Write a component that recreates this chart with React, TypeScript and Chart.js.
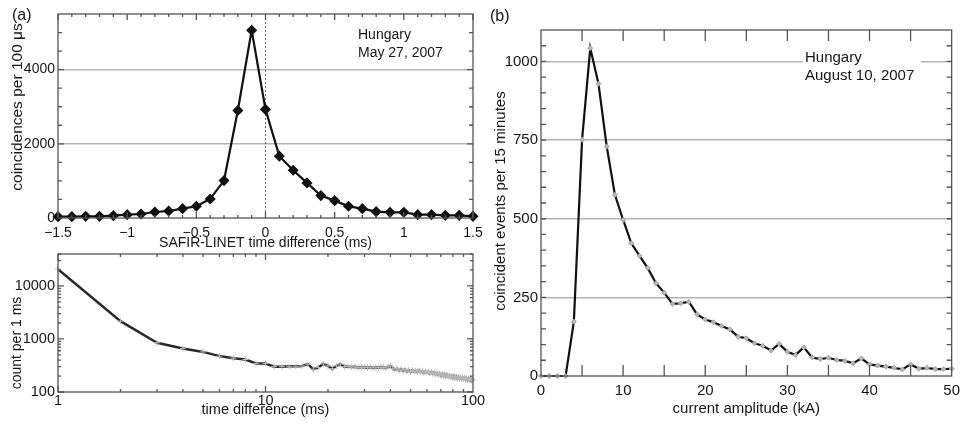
import { useEffect, useRef } from "react";
import Chart from "chart.js/auto";

const SANS = "'Liberation Sans', Arial, Helvetica, sans-serif";
const INK = "#151515";
const FRAME = "#555";
const GRID = "#b4b4b4";

// (a) upper: SAFIR-LINET coincidences vs time difference
const timeDiffMs = [
  -1.5, -1.4, -1.3, -1.2, -1.1, -1.0, -0.9, -0.8, -0.7, -0.6, -0.5, -0.4, -0.3, -0.2, -0.1,
  0, 0.1, 0.2, 0.3, 0.4, 0.5, 0.6, 0.7, 0.8, 0.9, 1.0, 1.1, 1.2, 1.3, 1.4, 1.5,
];
const coincidencesPer100us = [
  36, 36, 45, 45, 63, 90, 108, 162, 189, 252, 315, 514, 1009, 2900, 5063,
  2928, 1667, 1288, 946, 604, 468, 315, 252, 171, 153, 153, 90, 90, 72, 72, 45,
];
const timeDiffTicks = [-1.5, -1, -0.5, 0, 0.5, 1, 1.5];
const coincidenceTicks = [0, 2000, 4000];

// (a) lower: count per 1 ms vs time difference (log-log)
const lagMs = [
  1, 2, 3, 4, 5, 6, 7, 8, 9, 10,
  11, 12, 13, 14, 15, 16, 17, 18, 19, 20,
  21, 22, 23, 24, 25, 26, 27, 28, 29, 30,
  31, 32, 33, 34, 35, 36, 37, 38, 39, 40,
  41, 42, 43, 44, 45, 46, 47, 48, 49, 50,
  51, 52, 53, 54, 55, 56, 57, 58, 59, 60,
  61, 62, 63, 64, 65, 66, 67, 68, 69, 70,
  71, 72, 73, 74, 75, 76, 77, 78, 79, 80,
  81, 82, 83, 84, 85, 86, 87, 88, 89, 90,
  91, 92, 93, 94, 95, 96, 97, 98, 99, 100,
];
const countPer1ms = [
  20700, 2170, 850, 660, 570, 475, 435, 410, 345, 345,
  300, 300, 305, 305, 310, 335, 268, 290, 340, 310,
  275, 310, 335, 300, 300, 295, 298, 290, 295, 292,
  288, 295, 285, 292, 288, 295, 290, 282, 300, 310,
  280, 262, 275, 255, 270, 250, 265, 245, 258, 240,
  255, 245, 250, 238, 252, 236, 248, 230, 245, 232,
  240, 226, 238, 222, 232, 215, 228, 212, 222, 205,
  218, 200, 215, 198, 210, 195, 205, 190, 200, 185,
  198, 185, 195, 180, 192, 178, 190, 176, 188, 175,
  185, 172, 182, 168, 180, 170, 178, 165, 175, 168,
];
const lagTicks = [1, 10, 100];
const countTicks = [100, 1000, 10000];

// (b) coincident events vs current amplitude
const currentKA = [
  0, 1, 2, 3, 4, 5, 6, 7, 8, 9, 10, 11, 12, 13, 14, 15, 16, 17, 18, 19, 20, 21, 22, 23, 24, 25,
  26, 27, 28, 29, 30, 31, 32, 33, 34, 35, 36, 37, 38, 39, 40, 41, 42, 43, 44, 45, 46, 47, 48, 49, 50,
];
const eventsPer15min = [
  0, 0, 0, 0, 173, 751, 1042, 929, 730, 576, 496, 422, 382, 343, 295, 265, 229, 231, 236, 196,
  180, 171, 159, 148, 125, 120, 104, 96, 81, 102, 77, 67, 91, 59, 54, 58, 51, 48, 40, 56,
  37, 33, 30, 26, 21, 37, 23, 26, 22, 22, 23,
];
const currentTicks = [0, 10, 20, 30, 40, 50];
const eventTicks = [0, 250, 500, 750, 1000];

type Mark = { v: number; len: number };
type Note = { text: string; x: number; y: number; size: number; rotate?: boolean };

function framePlugin(
  xMarks: Mark[],
  yMarks: Mark[],
  notes: Note[],
  opts: { zeroLine?: boolean; blank?: number[] } = {}
) {
  return {
    id: "frame",
    beforeDatasetsDraw(chart: any) {
      if (!opts.zeroLine) return;
      const { ctx, chartArea } = chart;
      const px = chart.scales.x.getPixelForValue(0);
      ctx.save();
      ctx.strokeStyle = "#666";
      ctx.lineWidth = 1;
      ctx.setLineDash([2, 2]);
      ctx.beginPath();
      ctx.moveTo(px, chartArea.top);
      ctx.lineTo(px, chartArea.bottom);
      ctx.stroke();
      ctx.restore();
    },
    afterDatasetsDraw(chart: any) {
      if (!opts.blank) return;
      const [x, y, w, h] = opts.blank;
      chart.ctx.save();
      chart.ctx.fillStyle = "#fff";
      chart.ctx.fillRect(x, y, w, h);
      chart.ctx.restore();
    },
    afterDraw(chart: any) {
      const { ctx } = chart;
      const { left, right, top, bottom } = chart.chartArea;
      const xs = chart.scales.x;
      const ys = chart.scales.y;
      ctx.save();
      ctx.strokeStyle = FRAME;
      ctx.lineWidth = 1.3;
      ctx.strokeRect(left, top, right - left, bottom - top);
      ctx.beginPath();
      for (const m of xMarks) {
        const px = xs.getPixelForValue(m.v);
        ctx.moveTo(px, bottom);
        ctx.lineTo(px, bottom - m.len);
        ctx.moveTo(px, top);
        ctx.lineTo(px, top + m.len);
      }
      for (const m of yMarks) {
        const py = ys.getPixelForValue(m.v);
        ctx.moveTo(left, py);
        ctx.lineTo(left + m.len, py);
        ctx.moveTo(right, py);
        ctx.lineTo(right - m.len, py);
      }
      ctx.stroke();

      ctx.fillStyle = INK;
      for (const n of notes) {
        ctx.font = `${n.size}px ${SANS}`;
        if (n.rotate) {
          ctx.save();
          ctx.translate(n.x, n.y);
          ctx.rotate(-Math.PI / 2);
          ctx.textAlign = "center";
          ctx.textBaseline = "middle";
          ctx.fillText(n.text, 0, 0);
          ctx.restore();
        } else {
          ctx.textAlign = "left";
          ctx.textBaseline = "alphabetic";
          ctx.fillText(n.text, n.x, n.y);
        }
      }
      ctx.restore();
    },
  };
}

const font = (size: number) => ({ family: SANS, size, lineHeight: 1.2 });

function axis(opts: {
  type?: string;
  min: number;
  max: number;
  ticks: number[];
  size: number;
  fit: number;
  horizontal: boolean;
  pad: number;
  grid?: number[];
  title?: string;
  titlePad?: number;
  fmt?: (v: number) => string;
}) {
  return {
    type: opts.type ?? "linear",
    min: opts.min,
    max: opts.max,
    afterBuildTicks: (s: any) => {
      s.ticks = opts.ticks.map((v) => ({ value: v }));
    },
    afterFit: (s: any) => {
      if (opts.horizontal) s.height = opts.fit;
      else s.width = opts.fit;
    },
    grid: opts.grid
      ? {
          color: (c: any) => (c.tick && opts.grid!.includes(c.tick.value) ? GRID : "rgba(0,0,0,0)"),
          lineWidth: 1.5,
          drawTicks: false,
        }
      : { display: false, drawTicks: false },
    border: { display: false },
    ticks: {
      padding: opts.pad,
      color: INK,
      font: font(opts.size),
      autoSkip: false,
      maxRotation: 0,
      callback: (v: any) => (opts.fmt ? opts.fmt(Number(v)) : String(v)),
    },
    title: opts.title
      ? {
          display: true,
          text: opts.title,
          color: INK,
          font: font(opts.size),
          padding: { top: 0, bottom: opts.titlePad ?? 0 },
        }
      : { display: false },
  };
}

export default function App() {
  const topRef = useRef<HTMLCanvasElement>(null);
  const logRef = useRef<HTMLCanvasElement>(null);
  const ampRef = useRef<HTMLCanvasElement>(null);

  useEffect(() => {
    // --- (a) upper ---
    const topX: Mark[] = [];
    for (let i = -15; i <= 15; i++) topX.push({ v: i / 10, len: i % 5 === 0 ? 6 : 3 });
    const topY: Mark[] = [];
    for (let v = 500; v < 5500; v += 500) topY.push({ v, len: v % 2000 === 0 ? 6 : 4 });

    const topChart = new Chart(topRef.current!, {
      type: "line",
      data: {
        datasets: [
          {
            data: timeDiffMs.map((x, i) => ({ x, y: coincidencesPer100us[i] })),
            borderColor: "#111",
            borderWidth: 2.2,
            pointStyle: "rectRot",
            pointRadius: 4,
            pointBackgroundColor: "#111",
            pointBorderColor: "#111",
            clip: false,
          },
        ],
      },
      options: {
        responsive: false,
        animation: false,
        layout: { padding: { top: 14, right: 17, left: 0, bottom: 0 } },
        plugins: { legend: { display: false }, tooltip: { enabled: false } },
        scales: {
          x: axis({
            min: -1.5, max: 1.5, ticks: timeDiffTicks, size: 14, fit: 38, horizontal: true, pad: 7,
            title: "SAFIR-LINET time difference (ms)", titlePad: 4,
            fmt: (v) => String(v).replace("-", "\u2212"),
          }),
          y: axis({
            min: 0, max: 5500, ticks: coincidenceTicks, size: 14, fit: 58, horizontal: false, pad: 3,
            grid: [2000, 4000],
          }),
        },
      } as any,
      plugins: [
        framePlugin(topX, topY, [
          { text: "(a)", x: 12, y: 20, size: 16 },
          { text: "Hungary", x: 358, y: 38.5, size: 14 },
          { text: "May 27, 2007", x: 358, y: 56.5, size: 14 },
          { text: "coincidences per 100 \u03bcs", x: 18, y: 107, size: 15.5, rotate: true },
        ], { zeroLine: true }),
      ],
    });

    // --- (a) lower, log-log ---
    const logX: Mark[] = [];
    for (const d of [1, 10]) for (let k = 1; k <= 9; k++) logX.push({ v: k * d, len: k === 1 ? 6 : 3 });
    const logY: Mark[] = [];
    for (const d of [100, 1000, 10000])
      for (let k = 1; k <= 9; k++) if (k * d <= 40000) logY.push({ v: k * d, len: k === 1 ? 6 : 3 });

    const logChart = new Chart(logRef.current!, {
      type: "line",
      data: {
        datasets: [
          {
            data: lagMs.map((x, i) => ({ x, y: countPer1ms[i] })),
            borderColor: "#2a2a2a",
            borderWidth: 2.5,
            pointStyle: "cross",
            pointRadius: 3,
            pointBorderWidth: 1,
            pointBorderColor: "#b8b8b8",
            pointBackgroundColor: "#b8b8b8",
            clip: false,
          },
        ],
      },
      options: {
        responsive: false,
        animation: false,
        layout: { padding: { top: 14, right: 17, left: 0, bottom: 0 } },
        plugins: { legend: { display: false }, tooltip: { enabled: false } },
        scales: {
          x: axis({
            type: "logarithmic", min: 1, max: 100, ticks: lagTicks, size: 14.5, fit: 32, horizontal: true, pad: 0,
            title: "time difference (ms)", titlePad: 5,
          }),
          y: axis({
            type: "logarithmic", min: 100, max: 40000, ticks: countTicks, size: 14.5, fit: 58, horizontal: false, pad: 3,
          }),
        },
      } as any,
      plugins: [
        framePlugin(logX, logY, [
          { text: "count per 1 ms", x: 17, y: 103, size: 14, rotate: true },
        ]),
      ],
    });

    // --- (b) ---
    const ampX: Mark[] = [];
    for (let v = 5; v < 50; v += 5) ampX.push({ v, len: 11 });
    const ampY: Mark[] = [];
    for (let v = 50; v < 1100; v += 50) ampY.push({ v, len: 5 });

    const ampChart = new Chart(ampRef.current!, {
      type: "line",
      data: {
        datasets: [
          {
            data: currentKA.map((x, i) => ({ x, y: eventsPer15min[i] })),
            borderColor: "#111",
            borderWidth: 2.2,
            pointStyle: "rectRot",
            pointRadius: 2.5,
            pointBorderWidth: 1,
            pointBorderColor: "#a0a0a0",
            pointBackgroundColor: "#b8b8b8",
            clip: false,
          },
        ],
      },
      options: {
        responsive: false,
        animation: false,
        layout: { padding: { top: 30, right: 9, left: 0, bottom: 0 } },
        plugins: { legend: { display: false }, tooltip: { enabled: false } },
        scales: {
          x: axis({
            min: 0, max: 50, ticks: currentTicks, size: 15, fit: 48, horizontal: true, pad: 6,
            title: "current amplitude (kA)", titlePad: 6,
          }),
          y: axis({
            min: 0, max: 1100, ticks: eventTicks, size: 15, fit: 61, horizontal: false, pad: 3,
            grid: [250, 500, 750, 1000],
          }),
        },
      } as any,
      plugins: [
        framePlugin(ampX, ampY, [
          { text: "(b)", x: 10, y: 20.5, size: 16 },
          { text: "Hungary", x: 325, y: 61.5, size: 15 },
          { text: "August 10, 2007", x: 325, y: 80, size: 15 },
          { text: "coincident events per 15 minutes", x: 21, y: 201, size: 15, rotate: true },
        ], { blank: [323, 44, 118, 42] }),
      ],
    });

    return () => {
      topChart.destroy();
      logChart.destroy();
      ampChart.destroy();
    };
  }, []);

  const place = (left: number, top: number, w: number, h: number) => ({
    position: "absolute" as const,
    left,
    top,
    width: w,
    height: h,
  });

  return (
    <div style={{ position: "absolute", left: 0, top: 0, width: 966, height: 424, background: "#fff" }}>
      <canvas ref={topRef} width={490} height={256} style={place(0, 0, 490, 256)} />
      <canvas ref={logRef} width={490} height={184} style={place(0, 240, 490, 184)} />
      <canvas ref={ampRef} width={486} height={424} style={place(480, 0, 486, 424)} />
    </div>
  );
}
